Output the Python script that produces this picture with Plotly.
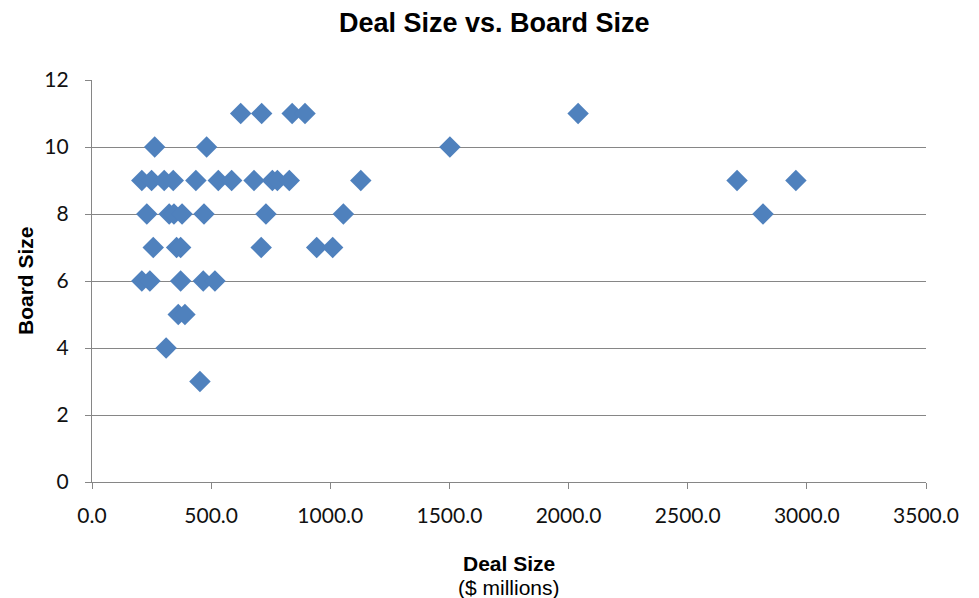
import plotly.graph_objects as go

# Deal size ($ millions) and board size for each transaction, grouped by board size
deal_size = [
    624, 712, 840, 894, 2040,                                   # 11
    263, 481, 1502,                                             # 10
    209, 250, 303, 341, 436, 530, 586, 680, 757, 778, 828,
    1128, 2707, 2954,                                           # 9
    230, 324, 344, 378, 470, 730, 1055, 2816,                   # 8
    257, 355, 372, 710, 943, 1010,                              # 7
    209, 243, 372, 467, 516,                                    # 6
    362, 390,                                                   # 5
    311,                                                        # 4
    453,                                                        # 3
]
board_size = (
    [11] * 5 + [10] * 3 + [9] * 14 + [8] * 8 + [7] * 6 + [6] * 5 + [5] * 2 + [4] + [3]
)

x_ticks = [0, 500, 1000, 1500, 2000, 2500, 3000, 3500]
y_ticks = [0, 2, 4, 6, 8, 10, 12]

grid = "#868686"
label_family = "Liberation Sans, Arial, sans-serif"
tick_font = dict(family="Lato, Open Sans, sans-serif", size=21, color="#111111")

fig = go.Figure(
    go.Scatter(
        x=deal_size,
        y=board_size,
        mode="markers",
        marker=dict(symbol="diamond", size=16.5, color="#4F81BD", line=dict(width=0)),
        hoverinfo="x+y",
    )
)

fig.update_layout(
    width=979,
    height=598,
    margin=dict(l=92, r=53, t=80, b=116),
    paper_bgcolor="white",
    plot_bgcolor="white",
    showlegend=False,
    xaxis=dict(
        range=[0, 3500],
        tickvals=x_ticks,
        ticktext=[f"{v:.1f}" for v in x_ticks],
        showgrid=False,
        zeroline=False,
        showline=True,
        linecolor=grid,
        linewidth=1.3,
        ticks="outside",
        ticklen=6,
        tickcolor=grid,
        tickfont=tick_font,
        ticklabelstandoff=9,
    ),
    yaxis=dict(
        range=[0, 12],
        tickvals=y_ticks,
        showgrid=True,
        gridcolor=grid,
        gridwidth=1.3,
        zeroline=False,
        showline=True,
        linecolor=grid,
        linewidth=1.3,
        ticks="outside",
        ticklen=6,
        tickcolor=grid,
        tickfont=tick_font,
        ticklabelstandoff=12,
    ),
    annotations=[
        dict(
            text="<b>Deal Size vs. Board Size</b>",
            xref="paper", yref="paper", x=0.483, y=1.0, yshift=57,
            showarrow=False, xanchor="center", yanchor="middle",
            font=dict(family=label_family, size=27, color="#000000"),
        ),
        dict(
            text="<b>Deal Size</b>",
            xref="paper", yref="paper", x=0.5, y=0, yshift=-81,
            showarrow=False, xanchor="center", yanchor="middle",
            font=dict(family=label_family, size=21, color="#000000"),
        ),
        dict(
            text="($ millions)",
            xref="paper", yref="paper", x=0.5, y=0, yshift=-105,
            showarrow=False, xanchor="center", yanchor="middle",
            font=dict(family=label_family, size=21, color="#000000"),
        ),
        dict(
            text="<b>Board Size</b>",
            xref="paper", yref="paper", x=0, y=0.5, xshift=-67, yshift=0,
            textangle=-90,
            showarrow=False, xanchor="center", yanchor="middle",
            font=dict(family=label_family, size=21, color="#000000"),
        ),
    ],
)

fig.write_html("out.html")
